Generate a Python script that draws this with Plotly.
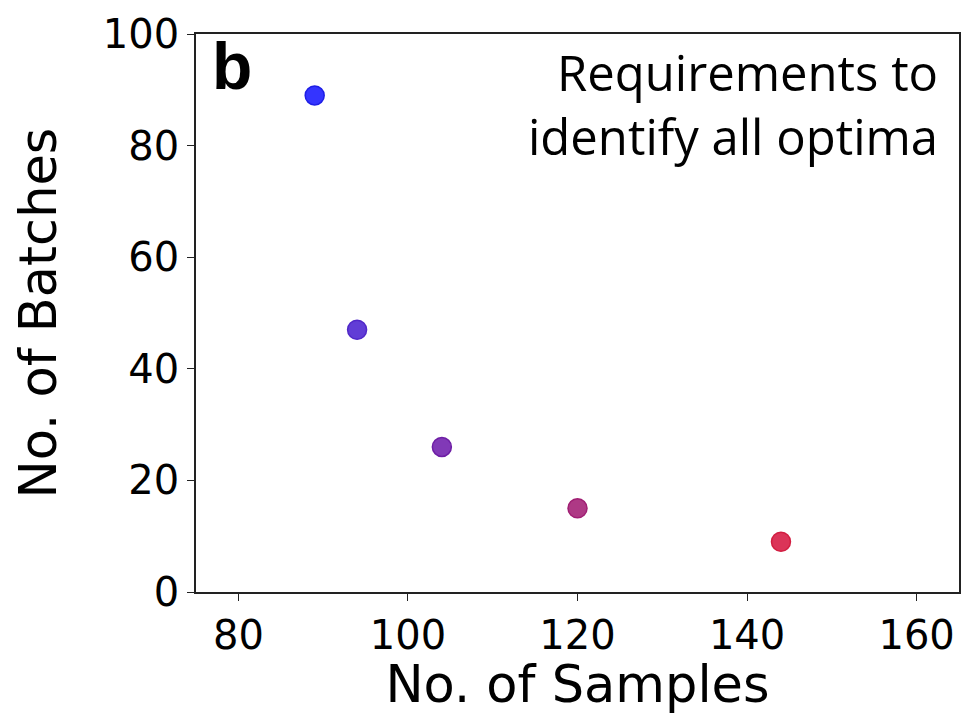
import plotly.graph_objects as go

samples = [89, 94, 104, 120, 144]
batches = [89, 47, 26, 15, 9]
colors = ["rgba(30,30,255,0.9)", "rgba(80,40,210,0.9)", "rgba(115,35,175,0.9)",
          "rgba(165,35,120,0.9)", "rgba(215,30,70,0.9)"]
edge_colors = ["rgb(30,30,230)", "rgb(80,40,200)", "rgb(110,30,165)",
               "rgb(160,30,115)", "rgb(210,30,65)"]
x_ticks = [80, 100, 120, 140, 160]
y_ticks = [0, 20, 40, 60, 80, 100]

fig = go.Figure()
fig.add_trace(go.Scatter(
    x=samples, y=batches, mode="markers",
    marker=dict(size=19, color=colors, line=dict(color=edge_colors, width=1.5)),
    showlegend=False,
))

axis_common = dict(
    showline=True, linecolor="#222", linewidth=1.6, mirror=True,
    ticks="outside", ticklen=7, tickwidth=1.4, tickcolor="#222",
    showgrid=False, zeroline=False,
    tickfont=dict(family="DejaVu Sans", size=40, color="black"),
)

fig.update_layout(
    width=962, height=714,
    margin=dict(l=196, r=1, t=34, b=122),
    paper_bgcolor="white", plot_bgcolor="white",
    xaxis=dict(range=[75, 165], tickvals=x_ticks,
               title=dict(text="No. of Samples", font=dict(family="DejaVu Sans", size=51, color="black"), standoff=16),
               **axis_common),
    yaxis=dict(range=[0, 100], tickvals=y_ticks,
               title=dict(text="No. of Batches", font=dict(family="DejaVu Sans", size=51, color="black"), standoff=30),
               **axis_common),
    annotations=[
        dict(text="<b>b</b>", x=0.019, y=1.012, xref="paper", yref="paper",
             xanchor="left", yanchor="top", showarrow=False,
             font=dict(family="Liberation Sans", size=66, color="black")),
        dict(text="Requirements to<br>identify all optima", x=0.975, y=0.995,
             xref="paper", yref="paper", xanchor="right", yanchor="top",
             align="right", showarrow=False,
             font=dict(family="Open Sans", size=49, color="black")),
    ],
)

fig.write_html("out.html")
